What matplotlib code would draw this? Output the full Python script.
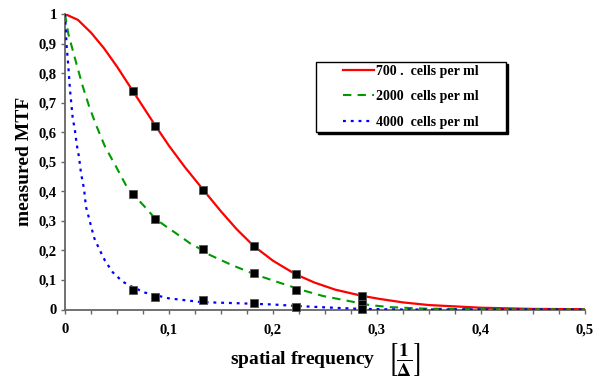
import matplotlib
matplotlib.use("Agg")
import matplotlib.pyplot as plt
from matplotlib.lines import Line2D
from matplotlib.patches import Rectangle
import numpy as np

# curves
red_x = [0, 0.0125, 0.025, 0.0375, 0.05, 0.0655, 0.0869, 0.1, 0.115, 0.1327, 0.15,
         0.165, 0.1814, 0.2, 0.2218, 0.24, 0.26, 0.2859, 0.3029, 0.325, 0.35, 0.4,
         0.45, 0.5]
red_y = [1.0, 0.98, 0.937, 0.884, 0.822, 0.738, 0.622, 0.554, 0.483, 0.406, 0.332,
         0.272, 0.215, 0.165, 0.119, 0.091, 0.067, 0.046, 0.0356, 0.024, 0.015, 0.006,
         0.002, 0.001]

green_x = [0, 0.0016, 0.0032, 0.0064, 0.0112, 0.017, 0.0234, 0.0305, 0.0385, 0.049,
           0.0593, 0.0655, 0.0779, 0.0869, 0.0952, 0.112, 0.1202, 0.1327, 0.139, 0.160,
           0.184, 0.2035, 0.2276, 0.248, 0.271, 0.293, 0.3125, 0.345, 0.4, 0.5]
green_y = [1.0, 0.965, 0.933, 0.891, 0.829, 0.756, 0.685, 0.619, 0.551, 0.484,
           0.416, 0.39, 0.343, 0.307, 0.286, 0.245, 0.224, 0.2, 0.185, 0.151,
           0.117, 0.094, 0.066, 0.0457, 0.030, 0.015, 0.008, 0.003, 0.001, 0.0]

blue_x = [0, 0.0016, 0.0032, 0.0048, 0.0074, 0.0096, 0.0112, 0.0135, 0.0154, 0.0183,
          0.0202, 0.0231, 0.0257, 0.0282, 0.033, 0.0385, 0.0459, 0.0555, 0.0655, 0.077,
          0.0994, 0.131, 0.168, 0.2, 0.2218, 0.264, 0.2859, 0.32, 0.5]
blue_y = [1.0, 0.891, 0.823, 0.744, 0.648, 0.605, 0.56, 0.515, 0.461, 0.408,
          0.347, 0.309, 0.273, 0.241, 0.204, 0.165, 0.126, 0.094, 0.075, 0.057,
          0.038, 0.025, 0.021, 0.017, 0.012, 0.005, 0.002, 0.0, 0.0]

# measured points (black squares)
meas_x = [0.0655, 0.0869, 0.1327, 0.1814, 0.2218, 0.2859]
meas_red = [0.738, 0.622, 0.406, 0.215, 0.119, 0.044]
meas_green = [0.390, 0.307, 0.205, 0.124, 0.067, 0.017]
meas_blue = [0.066, 0.043, 0.031, 0.022, 0.010, 0.002]

labels = ["700 .  cells per ml", "2000  cells per ml", "4000  cells per ml"]
xticks = [0, 0.1, 0.2, 0.3, 0.4, 0.5]
xtick_labels = ["0", "0,1", "0,2", "0,3", "0,4", "0,5"]
yticks = [0, 0.1, 0.2, 0.3, 0.4, 0.5, 0.6, 0.7, 0.8, 0.9, 1.0]
ytick_labels = ["0", "0,1", "0,2", "0,3", "0,4", "0,5", "0,6", "0,7", "0,8", "0,9", "1"]

plt.rcParams["font.family"] = ["Liberation Serif", "DejaVu Serif"]
plt.rcParams["font.weight"] = "bold"
plt.rcParams["mathtext.fontset"] = "stix"

fig = plt.figure(figsize=(6.01, 3.81), dpi=100)
ax = fig.add_axes([65 / 601, 1 - 309.5 / 381, 520 / 601, 295.5 / 381])

red = "#ff0000"
green = "#009900"
blue = "#0000ff"

ax.plot(red_x, red_y, color=red, lw=1.6, zorder=3)
ax.plot(green_x, green_y, color=green, lw=1.5, dashes=(4, 3), zorder=3)
ax.plot(blue_x, blue_y, color=blue, lw=1.6, dashes=(1.3, 2.2), zorder=3)

for ys in (meas_red, meas_green, meas_blue):
    ax.plot(meas_x, ys, ls="none", marker="s", ms=5.5, mfc="black",
            mec="#555555", mew=0.6, zorder=5, clip_on=False)

ax.set_xlim(0, 0.5)
ax.set_ylim(0, 1)
for s in ("top", "right"):
    ax.spines[s].set_visible(False)
for s in ("left", "bottom"):
    ax.spines[s].set_color("#666666")
    ax.spines[s].set_linewidth(1.3)

ax.set_xticks(xticks)
ax.set_xticklabels(xtick_labels, fontsize=10.5, fontweight="bold")
ax.set_xticks(np.arange(0, 0.5001, 0.025), minor=True)
ax.set_yticks(yticks)
ax.set_yticklabels(ytick_labels, fontsize=10.5, fontweight="bold")
ax.tick_params(axis="both", which="both", direction="out", length=3, width=1,
               color="#666666")
ax.tick_params(axis="y", pad=3)
ax.tick_params(axis="x", pad=7)

ax.set_ylabel("measured MTF", fontsize=14, fontweight="bold")
ax.yaxis.set_label_coords(-0.062, 0.5)
ax.set_xlabel(r"spatial frequency   $\left[\dfrac{1}{\Delta}\right]$", fontsize=14,
              fontweight="bold")
ax.xaxis.set_label_coords(0.5007, -0.107)

# legend box with a drop shadow
ax.add_patch(Rectangle((318 / 601, 1 - 133.7 / 381), 190 / 601, 69.4 / 381,
                       transform=fig.transFigure, facecolor="black",
                       edgecolor="black", zorder=8, clip_on=False))
ax.add_patch(Rectangle((316 / 601, 1 - 131.7 / 381), 190 / 601, 69.4 / 381,
                       transform=fig.transFigure, facecolor="white",
                       edgecolor="black", lw=1, zorder=9, clip_on=False))

handles = [Line2D([], [], color=red, lw=1.6),
           Line2D([], [], color=green, lw=1.5, dashes=(4, 3)),
           Line2D([], [], color=blue, lw=1.6, dashes=(1.3, 2.2))]
leg = ax.legend(handles, labels, loc="upper left", bbox_to_anchor=(343 / 601, 1 - 64.5 / 381),
                bbox_transform=fig.transFigure, frameon=False, borderpad=0,
                borderaxespad=0, handlelength=2.2, handletextpad=0.15,
                labelspacing=0.92, prop={"size": 10, "weight": "bold"})
leg.set_zorder(10)

fig.savefig("out.png", dpi=100)
